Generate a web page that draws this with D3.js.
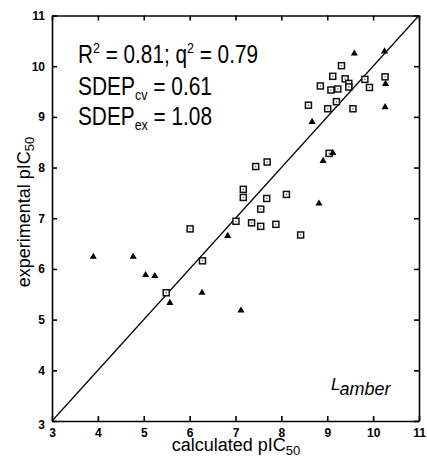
<!DOCTYPE html>
<html>
<head>
<meta charset="utf-8">
<script src="https://cdn.jsdelivr.net/npm/d3@7"></script>
<style>
  body { margin: 0; background: #fff; }
  svg { display: block; }
  .tick text { font-family: "Liberation Sans", Arial, sans-serif; font-size: 12px; font-weight: 700; }
</style>
</head>
<body>
<div id="chart"></div>
<script>
// triangles (filled)
const triCalc = [3.90, 4.77, 5.04, 5.24, 5.57, 6.27, 7.12, 6.83, 8.82, 8.91, 9.12, 8.67, 9.59, 10.25, 10.27, 10.26]
const triExp  = [6.25, 6.25, 5.89, 5.87, 5.34, 5.54, 5.19, 6.66, 7.30, 8.14, 8.30, 8.91, 10.26, 10.30, 9.66, 9.20]
// open squares
const sqCalc = [5.49, 6.28, 6.01, 7.01, 7.35, 7.55, 7.88, 8.42, 7.55, 7.68, 7.17, 7.17, 8.11, 7.44, 7.69,
                9.04, 8.59, 8.85, 9.01, 9.08, 9.20, 9.23, 9.12, 9.31, 9.39, 9.47, 9.47, 9.56, 9.82, 9.92, 10.26]
const sqExp  = [5.53, 6.16, 6.79, 6.94, 6.91, 6.84, 6.88, 6.67, 7.18, 7.39, 7.41, 7.57, 7.47, 8.02, 8.11,
                8.28, 9.23, 9.61, 9.16, 9.53, 9.30, 9.55, 9.80, 10.01, 9.75, 9.66, 9.59, 9.16, 9.74, 9.58, 9.79]
const ticks = [3, 4, 5, 6, 7, 8, 9, 10, 11]
const stats = [
  {main: "R", sup: "2", rest: " = 0.81; q", sup2: "2", rest2: " = 0.79"},
  {main: "SDEP", sub: "cv", rest: " = 0.61"},
  {main: "SDEP", sub: "ex", rest: " = 1.08"}
]

const width = 427
const height = 459
const margin = {top: 15.5, right: 8, bottom: 38, left: 52}

const svg = d3.select('#chart').append('svg')
  .attr('width', width)
  .attr('height', height)

const x = d3.scaleLinear().domain([3, 11]).range([margin.left, width - margin.right])
const y = d3.scaleLinear().domain([3, 11]).range([height - margin.bottom, margin.top])

function styleAxis(g) {
  g.selectAll('text').attr('fill', '#000')
  g.selectAll('line,path').attr('stroke', '#000').attr('stroke-width', 1.6)
}

// bottom axis with labels, ticks inward
svg.append('g')
  .attr('transform', 'translate(0,' + y(3) + ')')
  .call(d3.axisBottom(x).tickValues(ticks).tickSizeInner(-5).tickSizeOuter(0).tickPadding(7).tickFormat(d3.format('d')))
  .call(styleAxis)

// left axis
svg.append('g')
  .attr('transform', 'translate(' + x(3) + ',0)')
  .call(d3.axisLeft(y).tickValues(ticks).tickSizeInner(-5).tickSizeOuter(0).tickPadding(7).tickFormat(d3.format('d')))
  .call(styleAxis)
  .call(g => g.selectAll('.tick text').filter(d => d === 3).attr('dy', '0.65em'))

// top + right, ticks only
svg.append('g')
  .attr('transform', 'translate(0,' + y(11) + ')')
  .call(d3.axisTop(x).tickValues(ticks).tickSizeInner(-5).tickSizeOuter(0).tickFormat(''))
  .call(styleAxis)

svg.append('g')
  .attr('transform', 'translate(' + x(11) + ',0)')
  .call(d3.axisRight(y).tickValues(ticks).tickSizeInner(-5).tickSizeOuter(0).tickFormat(''))
  .call(styleAxis)

// the y = x line
svg.append('line')
  .attr('x1', x(3)).attr('y1', y(3))
  .attr('x2', x(11)).attr('y2', y(11))
  .attr('stroke', '#000').attr('stroke-width', 1.2)

// squares with a dot inside
const sq = svg.append('g').selectAll('g')
  .data(sqCalc.map((c, i) => ({c: c, e: sqExp[i]})))
  .enter().append('g')
  .attr('transform', d => 'translate(' + x(d.c) + ',' + y(d.e) + ')')
sq.append('rect')
  .attr('x', -3).attr('y', -3).attr('width', 6).attr('height', 6)
  .attr('fill', '#fff').attr('stroke', '#111').attr('stroke-width', 1.5)
sq.append('rect')
  .attr('x', -0.6).attr('y', -0.6).attr('width', 1.2).attr('height', 1.2)
  .attr('fill', '#444')

// filled triangles
svg.append('g').selectAll('path')
  .data(triCalc.map((c, i) => ({c: c, e: triExp[i]})))
  .enter().append('path')
  .attr('d', d3.symbol().type(d3.symbolTriangle).size(22))
  .attr('transform', d => 'translate(' + x(d.c) + ',' + (y(d.e) + 0.5) + ')')
  .attr('fill', '#000')

// statistics text
const statFont = '"Liberation Sans Narrow", "Arial Narrow", "Liberation Sans", sans-serif'
const st = svg.append('g').attr('font-family', statFont).attr('font-size', 25).attr('fill', '#000')
const l1 = st.append('text').attr('x', 78).attr('y', 63).attr('textLength', 180).attr('lengthAdjust', 'spacingAndGlyphs')
l1.append('tspan').text(stats[0].main)
l1.append('tspan').attr('font-size', 15).attr('dy', -10).text(stats[0].sup)
l1.append('tspan').attr('dy', 10).text(stats[0].rest)
l1.append('tspan').attr('font-size', 15).attr('dy', -10).text(stats[0].sup2)
l1.append('tspan').attr('dy', 10).text(stats[0].rest2)

;[1, 2].forEach((k, i) => {
  const t = st.append('text').attr('x', 78).attr('y', 95 + i * 30)
    .attr('textLength', 134).attr('lengthAdjust', 'spacingAndGlyphs')
  t.append('tspan').text(stats[k].main)
  t.append('tspan').attr('font-size', 15).attr('dy', 5).text(stats[k].sub)
  t.append('tspan').attr('dy', -5).text(stats[k].rest)
})

// L_amber label
const lab = svg.append('text').attr('x', 331).attr('y', 390)
  .attr('font-family', '"Liberation Sans", Arial, sans-serif').attr('font-style', 'italic').attr('fill', '#000')
lab.append('tspan').attr('font-size', 17).text('L')
lab.append('tspan').attr('font-size', 18).attr('dy', 5).attr('dx', -1).text('amber')

// axis titles
const titleFont = '"Liberation Sans", Arial, sans-serif'
const xt = svg.append('text')
  .attr('x', 236).attr('y', 451).attr('text-anchor', 'middle')
  .attr('font-family', titleFont).attr('font-size', 18).attr('fill', '#000')
xt.append('tspan').text('calculated pIC')
xt.append('tspan').attr('font-size', 13).attr('dy', 4).text('50')

const yt = svg.append('text')
  .attr('transform', 'translate(30,' + 212 + ') rotate(-90)')
  .attr('text-anchor', 'middle')
  .attr('font-family', titleFont).attr('font-size', 18).attr('fill', '#000')
yt.append('tspan').text('experimental pIC')
yt.append('tspan').attr('font-size', 13).attr('dy', 4).text('50')
</script>
</body>
</html>
